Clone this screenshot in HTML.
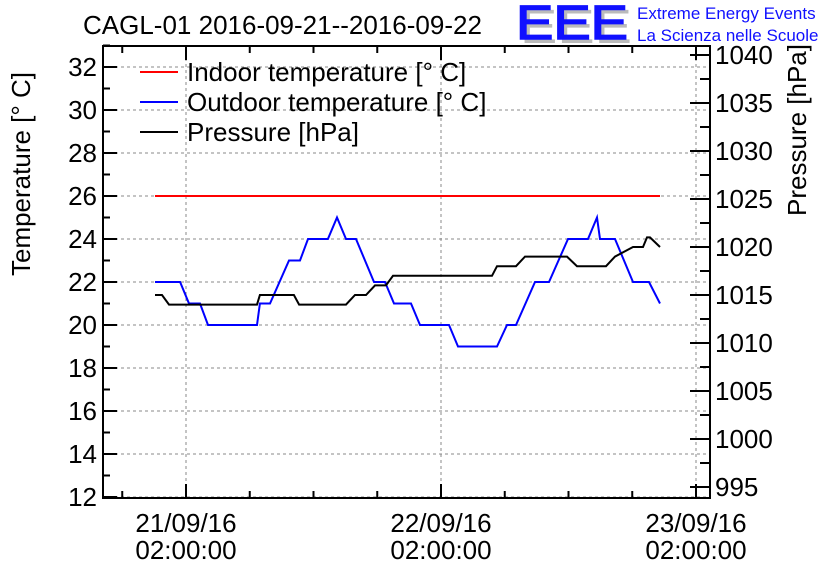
<!DOCTYPE html>
<html><head><meta charset="utf-8"><style>
body{margin:0;background:#fff}
svg{display:block;font-family:"Liberation Sans",Arial,sans-serif}
</style></head><body>
<svg id="chart" width="836" height="572" viewBox="0 0 836 572">
<rect width="836" height="572" fill="#fff"/>
<text x="83" y="34" font-size="26">CAGL-01 2016-09-21--2016-09-22</text>
<g>
<text x="520" y="43" font-size="48" fill="#bbb" textLength="112" lengthAdjust="spacingAndGlyphs">EEE</text>
<text x="516" y="39" font-size="48" fill="#1010ff" stroke="#1010ff" stroke-width="1.5" textLength="112" lengthAdjust="spacingAndGlyphs">EEE</text>
<text x="637" y="19" font-size="17" fill="#1010ff">Extreme Energy Events</text>
<text x="637" y="41" font-size="17" fill="#1010ff">La Scienza nelle Scuole</text>
</g>
<text transform="translate(30,174) rotate(-90)" text-anchor="middle" font-size="26">Temperature [° C]</text>
<text transform="translate(806,130) rotate(-90)" text-anchor="middle" font-size="26">Pressure [hPa]</text>
<g id="grid"></g>
<g id="axes"></g>
<g id="series"></g>
<g>
<g><line x1="140" y1="72" x2="178" y2="72" stroke="#f00" stroke-width="2"/><text x="187" y="81" font-size="26">Indoor temperature [° C]</text></g>
<g><line x1="140" y1="102" x2="178" y2="102" stroke="#00f" stroke-width="2"/><text x="187" y="111" font-size="26">Outdoor temperature [° C]</text></g>
<g><line x1="140" y1="132" x2="178" y2="132" stroke="#000" stroke-width="2"/><text x="187" y="141" font-size="26">Pressure [hPa]</text></g>
</g>
</svg>
<script>
// hours relative to 21/09/16 02:00:00
const indoorHours=[-2.92,44.61];
const indoorTemp=[26,26];
const outdoorHours=[-2.92,-0.56,0.28,1.32,2.07,6.68,6.96,7.91,9.69,10.73,11.48,13.36,14.21,15.06,16.0,17.69,18.73,19.58,21.18,22.02,24.75,25.6,29.27,30.21,31.06,32.85,34.16,35.95,37.84,38.68,38.96,40.38,42.07,43.58,44.61];
const outdoorTemp=[22,22,21,21,20,20,21,21,23,23,24,24,25,24,24,22,22,21,21,20,20,19,19,20,20,22,22,24,24,25,24,24,22,22,21];
const pressHours=[-2.92,-2.26,-1.6,6.68,6.96,10.16,10.64,15.06,15.91,16.94,17.79,18.82,19.48,28.8,29.27,31.06,31.91,35.86,36.8,39.53,40.38,42.07,43.01,43.39,43.67,44.61];
const pressVals=[1015,1015,1014,1014,1015,1015,1014,1014,1015,1015,1016,1016,1017,1017,1018,1018,1019,1019,1018,1018,1019,1020,1020,1021,1021,1020];
const tempTicks=[12,14,16,18,20,22,24,26,28,30,32];
const pressTicks=[995,1000,1005,1010,1015,1020,1025,1030,1035,1040];
const timeTicks=[0,24,48];
const timeDates=["21/09/16","22/09/16","23/09/16"];
const timeClock=["02:00:00","02:00:00","02:00:00"];

const L=103,R=710,T=46,B=498;
const xS=h=>186+h*10.625;
const yT=t=>196-(t-26)*21.5;
const yP=p=>343-(p-1010)*9.6;
const NS="http://www.w3.org/2000/svg";
function mk(tag,attrs,parent){const e=document.createElementNS(NS,tag);for(const k in attrs)e.setAttribute(k,attrs[k]);parent.appendChild(e);return e;}
const grid=document.getElementById('grid'),axes=document.getElementById('axes'),ser=document.getElementById('series');
tempTicks.forEach(t=>{const g=mk('line',{x1:L,x2:R,y1:yT(t),y2:yT(t),stroke:'#888','stroke-dasharray':'3,3'},grid);

});
timeTicks.forEach(h=>{const g=mk('line',{x1:xS(h),x2:xS(h),y1:T,y2:B,stroke:'#888','stroke-dasharray':'3,3'},grid);

});
const fr=mk('rect',{x:L,y:T,width:R-L,height:B-T,fill:'none',stroke:'#000','stroke-width':2},axes);


for(let t=12;t<=33;t++){const len=(t%2===0)?14:7;
mk('line',{x1:L,x2:L+len,y1:yT(t),y2:yT(t),stroke:'#000','stroke-width':2},axes);}
tempTicks.forEach(t=>{const tx=mk('text',{x:L-6,y:yT(t)+9,'text-anchor':'end','font-size':26},axes);tx.textContent=t;

});
for(let p=995;p<=1040;p+=2.5){const len=(p%5===0)?20:10;
mk('line',{x1:R-len,x2:R,y1:yP(p),y2:yP(p),stroke:'#000','stroke-width':2},axes);}
pressTicks.forEach(p=>{const tx=mk('text',{x:R+5,y:yP(p)+9,'font-size':26},axes);tx.textContent=p;

});
for(let h=-6;h<=48;h+=6){const x=xS(h);if(x<L||x>R)continue;const len=(h%24===0)?14:7;
mk('line',{x1:x,x2:x,y1:B,y2:B-len,stroke:'#000','stroke-width':2},axes);
mk('line',{x1:x,x2:x,y1:T,y2:T+len,stroke:'#000','stroke-width':2},axes);}
timeTicks.forEach((h,i)=>{const a=mk('text',{x:xS(h),y:532,'text-anchor':'middle','font-size':26},axes);a.textContent=timeDates[i];


const b=mk('text',{x:xS(h),y:559,'text-anchor':'middle','font-size':26},axes);b.textContent=timeClock[i];

});
function poly(hs,vs,ys,color,name){const pts=hs.map((h,i)=>xS(h).toFixed(1)+','+ys(vs[i]).toFixed(1)).join(' ');
const p=mk('polyline',{points:pts,fill:'none',stroke:color,'stroke-width':2},ser);

}
poly(indoorHours,indoorTemp,yT,'#f00','indoor-temperature-line');
poly(outdoorHours,outdoorTemp,yT,'#00f','outdoor-temperature-line');
poly(pressHours,pressVals,yP,'#000','pressure-line');
</script>
</body></html>
